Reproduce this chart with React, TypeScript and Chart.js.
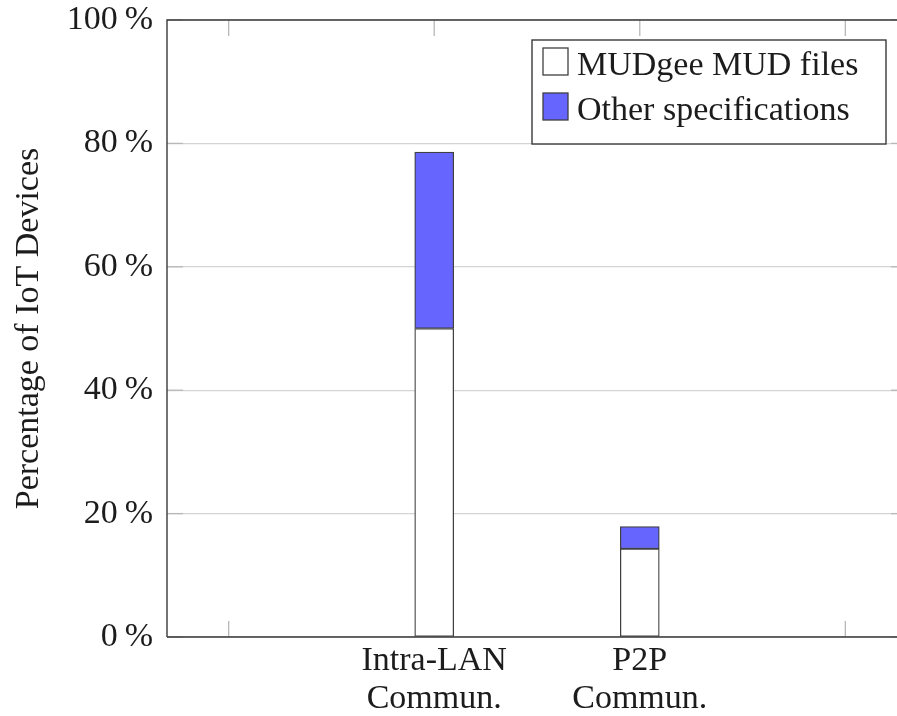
import React, { useEffect, useRef } from "react";
import { Chart, registerables } from "chart.js";

Chart.register(...registerables);

const categories = ["", "Intra-LAN\nCommun.", "P2P\nCommun.", ""];
const mudgeeValues: (number | null)[] = [null, 50.0, 14.3, null];
const otherValues: (number | null)[] = [null, 28.6, 3.6, null];
const seriesLabels = ["MUDgee MUD files", "Other specifications"];
const yTickValues = [0, 20, 40, 60, 80, 100];
const yTitle = "Percentage of IoT Devices";

const FONT = "'Liberation Serif', 'Times New Roman', serif";
const TEXT = "#1c1c1c";
const AXIS = "#3a3a3a";
const GRID = "#d4d4d4";
const TICK = "#b8b8b8";
const BLUE = "#6666ff";
const BAR_BORDER = "#404040";

const toPoints = (vals: (number | null)[]) =>
  vals
    .map((v, i) => ({ x: i, y: v }))
    .filter((p) => p.y !== null) as { x: number; y: number }[];

const framePlugin = {
  id: "frame",
  beforeDatasetsDraw(chart: any) {
    const { ctx, chartArea: a, scales } = chart;
    ctx.save();
    ctx.strokeStyle = TICK;
    ctx.lineWidth = 1.3;
    const line = (x1: number, y1: number, x2: number, y2: number) => {
      ctx.beginPath();
      ctx.moveTo(x1, y1);
      ctx.lineTo(x2, y2);
      ctx.stroke();
    };
    scales.x.ticks.forEach((t: any) => {
      const px = scales.x.getPixelForValue(t.value);
      line(px, a.bottom, px, a.bottom - 16);
      line(px, a.top, px, a.top + 16);
    });
    scales.y.ticks.forEach((t: any) => {
      const py = scales.y.getPixelForValue(t.value);
      line(a.left, py, a.left + 16, py);
      line(a.right, py, a.right - 16, py);
    });
    ctx.restore();
  },
  afterDatasetsDraw(chart: any) {
    const { ctx, chartArea: a } = chart;
    ctx.save();
    ctx.strokeStyle = AXIS;
    ctx.lineWidth = 1.4;
    ctx.beginPath();
    ctx.moveTo(a.left, a.bottom);
    ctx.lineTo(a.left, a.top);
    ctx.lineTo(a.right, a.top);
    ctx.lineTo(a.right, a.bottom);
    ctx.lineTo(a.left, a.bottom);
    ctx.stroke();
    ctx.restore();
  },
  afterDraw(chart: any) {
    const { ctx, chartArea: a } = chart;
    const w = 354;
    const h = 104;
    const left = a.right - 21 - w;
    const top = a.top + 20;
    ctx.save();
    ctx.fillStyle = "#ffffff";
    ctx.fillRect(left, top, w, h);
    ctx.strokeStyle = AXIS;
    ctx.lineWidth = 1.4;
    ctx.strokeRect(left, top, w, h);
    ctx.font = `34px ${FONT}`;
    ctx.textBaseline = "alphabetic";
    chart.data.datasets.forEach((ds: any, i: number) => {
      const baseline = top + 35 + i * 45;
      ctx.fillStyle = ds.backgroundColor;
      ctx.fillRect(left + 11, baseline - 27, 25, 27);
      ctx.strokeStyle = BAR_BORDER;
      ctx.lineWidth = 1.3;
      ctx.strokeRect(left + 11, baseline - 27, 25, 27);
      ctx.fillStyle = TEXT;
      ctx.fillText(ds.label, left + 45, baseline);
    });
    ctx.restore();
  },
};

export default function App() {
  const ref = useRef<HTMLCanvasElement | null>(null);
  useEffect(() => {
    if (!ref.current) return;
    const chart = new Chart(ref.current, {
      type: "bar",
      data: {
        datasets: [
          {
            label: seriesLabels[0],
            data: toPoints(mudgeeValues),
            backgroundColor: "#ffffff",
            borderColor: BAR_BORDER,
            borderWidth: 1.3,
            borderSkipped: false,
            barThickness: 39,
          },
          {
            label: seriesLabels[1],
            data: toPoints(otherValues),
            backgroundColor: BLUE,
            borderColor: BAR_BORDER,
            borderWidth: 1.3,
            borderSkipped: false,
            barThickness: 39,
          },
        ],
      },
      options: {
        animation: false,
        responsive: false,
        devicePixelRatio: 1,
        layout: { padding: { left: 0, top: 20, right: 13, bottom: 0 } },
        plugins: {
          legend: { display: false },
          tooltip: { enabled: false },
        },
        scales: {
          x: {
            type: "linear",
            stacked: true,
            offset: false,
            min: -0.3,
            max: 3.3,
            afterBuildTicks: (scale: any) => {
              scale.ticks = categories.map((_, i) => ({ value: i }));
            },
            afterFit: (scale: any) => {
              scale.height = 79;
            },
            grid: { display: false, drawTicks: false },
            border: { display: false },
            ticks: {
              autoSkip: false,
              maxRotation: 0,
              minRotation: 0,
              padding: 5,
              color: TEXT,
              font: { family: FONT, size: 34, lineHeight: 1.12 },
              callback: (v: any) => {
                const c = categories[Math.round(Number(v))] ?? "";
                return c.includes("\n") ? c.split("\n") : c;
              },
            },
          },
          y: {
            stacked: true,
            min: 0,
            max: 100,
            afterBuildTicks: (scale: any) => {
              scale.ticks = yTickValues.map((v) => ({ value: v }));
            },
            afterFit: (scale: any) => {
              scale.width = 167;
              scale.paddingTop = 0;
              scale.paddingBottom = 0;
            },
            grid: { color: GRID, lineWidth: 1.2, drawTicks: false },
            border: { display: false },
            ticks: {
              padding: 14,
              color: TEXT,
              font: { family: FONT, size: 34, lineHeight: 0.3 },
              callback: (v: any) => `${v}\u2009%`,
            },
            title: {
              display: true,
              text: yTitle,
              color: TEXT,
              font: { family: FONT, size: 34 },
              padding: { top: 9, bottom: 0 },
            },
          },
        },
      },
      plugins: [framePlugin],
    } as any);
    return () => chart.destroy();
  }, []);
  return (
    <div
      style={{
        position: "fixed",
        left: 0,
        top: 0,
        width: 897,
        height: 716,
        overflow: "hidden",
        background: "#ffffff",
      }}
    >
      <canvas ref={ref} width={920} height={716} style={{ display: "block" }} />
    </div>
  );
}
